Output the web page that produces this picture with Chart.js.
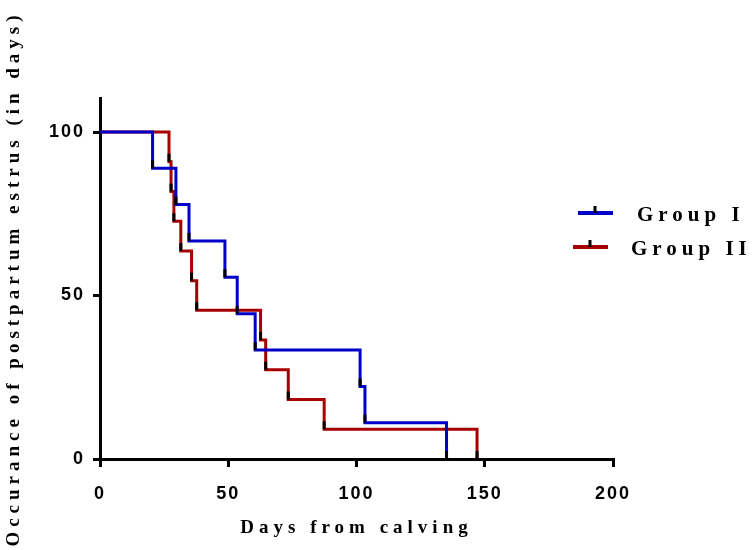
<!DOCTYPE html>
<html>
<head>
<meta charset="utf-8">
<script src="https://cdn.jsdelivr.net/npm/chart.js@4.4.1/dist/chart.umd.min.js"></script>
<style>
  html, body { margin: 0; padding: 0; background: #fff; }
  #wrap { width: 755px; height: 550px; }
</style>
</head>
<body>
<div id="wrap"><canvas id="chart"></canvas></div>
<script>
// Kaplan-Meier style curves
const groupIDays = [0, 20.5, 29.6, 34.7, 48.7, 53.5, 60.5, 101.4, 103.3, 135.1];
const groupIPct = [100, 88.9, 77.8, 66.7, 55.6, 44.4, 33.3, 22.2, 11.1, 0];
const groupIIDays = [0, 26.9, 27.7, 28.8, 31.5, 35.7, 37.7, 62.6, 64.6, 73.4, 87.4, 147];
const groupIIPct = [100, 90.9, 81.8, 72.7, 63.6, 54.5, 45.5, 36.4, 27.3, 18.2, 9.1, 0];
const xTicks = [0, 50, 100, 150, 200];
const yTicks = [0, 50, 100];
const seriesNames = ['Group I', 'Group II'];

const blue = '#0000c8';
const red = '#a80000';

const toPoints = (xs, ys) => xs.map((x, i) => ({x: x, y: ys[i]}));

// black marks at every drop
const dropMarks = {
    id: 'dropMarks',
    afterDatasetsDraw(chart) {
        const ctx = chart.ctx;
        const xs = chart.scales.x, ys = chart.scales.y;
        ctx.save();
        ctx.strokeStyle = '#000';
        ctx.lineWidth = 3;
        chart.data.datasets.forEach(ds => {
            ds.data.forEach((p, i) => {
                if (i === 0) return;
                const px = xs.getPixelForValue(p.x);
                const py = ys.getPixelForValue(p.y);
                ctx.beginPath();
                ctx.moveTo(px, py);
                ctx.lineTo(px, py - 8);
                ctx.stroke();
            });
        });
        ctx.restore();
    }
};

// spacing for the letters, and wider spacing for the axis titles
const spacing = {
    id: 'spacing',
    beforeLayout(chart) { chart.ctx.letterSpacing = '2px'; },
    beforeDraw(chart) {
        chart.ctx.letterSpacing = '2px';
        Object.values(chart.scales).forEach(s => {
            if (s._wrapped) return;
            const orig = s.drawTitle.bind(s);
            s.drawTitle = function () {
                chart.ctx.letterSpacing = '5px';
                orig();
                chart.ctx.letterSpacing = '2px';
            };
            s._wrapped = true;
        });
    }
};

// legend on the right side
const sideLegend = {
    id: 'sideLegend',
    afterDraw(chart) {
        const ctx = chart.ctx;
        const items = [
            {color: blue, lx: 578, ly: 213, tx: 637, ty: 216},
            {color: red, lx: 573, ly: 247, tx: 631, ty: 250}
        ];
        ctx.save();
        items.forEach((it, i) => {
            ctx.strokeStyle = it.color;
            ctx.lineWidth = 4;
            ctx.beginPath();
            ctx.moveTo(it.lx, it.ly);
            ctx.lineTo(it.lx + 35, it.ly);
            ctx.stroke();
            ctx.strokeStyle = '#000';
            ctx.lineWidth = 3;
            ctx.beginPath();
            ctx.moveTo(it.lx + 17, it.ly);
            ctx.lineTo(it.lx + 17, it.ly - 7);
            ctx.stroke();
            ctx.letterSpacing = '5px';
            ctx.fillStyle = '#000';
            ctx.font = 'bold 21px "Liberation Serif"';
            ctx.textBaseline = 'middle';
            ctx.textAlign = 'left';
            ctx.fillText(seriesNames[i], it.tx, it.ty);
        });
        ctx.restore();
    }
};

new Chart(document.getElementById('chart'), {
    type: 'line',
    data: {
        datasets: [{
            label: seriesNames[0],
            data: toPoints(groupIDays, groupIPct),
            borderColor: blue,
            borderWidth: 3,
            stepped: 'before',
            pointRadius: 0,
            fill: false
        }, {
            label: seriesNames[1],
            data: toPoints(groupIIDays, groupIIPct),
            borderColor: red,
            borderWidth: 3,
            stepped: 'before',
            pointRadius: 0,
            fill: false
        }]
    },
    options: {
        responsive: true,
        maintainAspectRatio: false,
        animation: false,
        layout: {padding: {top: 98, right: 142, left: 0, bottom: 0}},
        plugins: {
            legend: {display: false},
            tooltip: {enabled: false}
        },
        scales: {
            x: {
                type: 'linear',
                min: 0,
                max: 200,
                afterBuildTicks: s => { s.ticks = xTicks.map(v => ({value: v})); },
                afterFit: s => { s.height = 91; },
                grid: {drawOnChartArea: false, drawTicks: true, tickLength: 8, color: '#000', lineWidth: 3},
                border: {color: '#000', width: 3},
                ticks: {
                    color: '#000',
                    padding: 16,
                    maxRotation: 0,
                    font: {family: '"Liberation Sans"', weight: 'bold', size: 18}
                },
                title: {
                    display: true,
                    text: 'Days from calving',
                    color: '#000',
                    padding: {top: 11, bottom: 11},
                    font: {family: '"Liberation Serif"', weight: 'bold', size: 19}
                }
            },
            y: {
                type: 'linear',
                min: 0,
                max: 110.4,
                afterBuildTicks: s => { s.ticks = yTicks.map(v => ({value: v})); },
                afterFit: s => { s.width = 100; },
                grid: {drawOnChartArea: false, drawTicks: true, tickLength: 7, color: '#000', lineWidth: 3},
                border: {color: '#000', width: 3},
                ticks: {
                    color: '#000',
                    padding: 8,
                    font: {family: '"Liberation Sans"', weight: 'bold', size: 18}
                },
                title: {
                    display: true,
                    text: 'Occurance of postpartum estrus (in days)',
                    color: '#000',
                    padding: {top: 3, bottom: 3},
                    font: {family: '"Liberation Serif"', weight: 'bold', size: 19}
                }
            }
        }
    },
    plugins: [spacing, dropMarks, sideLegend]
});
</script>
</body>
</html>
